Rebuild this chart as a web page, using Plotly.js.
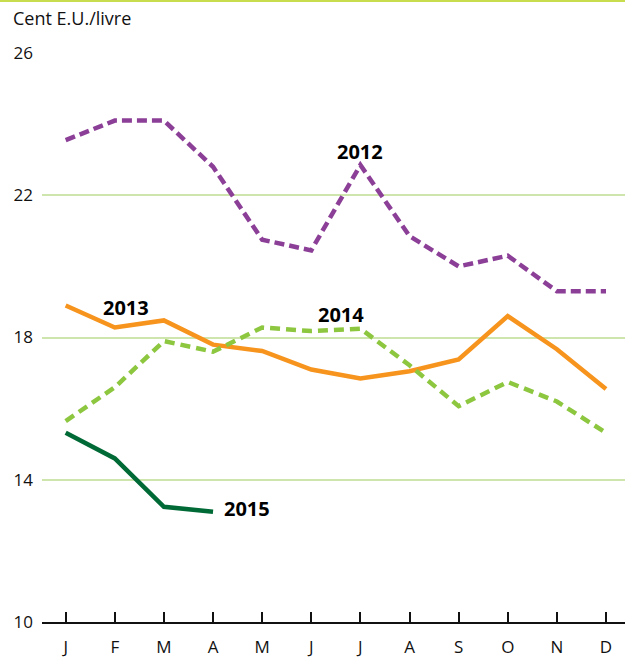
<!DOCTYPE html>
<html>
<head>
<meta charset="utf-8">
<script src="https://cdn.plot.ly/plotly-3.0.1.min.js"></script>
<style>
html,body{margin:0;padding:0;background:#fff;}
#chart{width:625px;height:658px;}
</style>
</head>
<body>
<div id="chart"></div>
<script>
var months = ['J','F','M','A','M','J','J','A','S','O','N','D'];
var monthIndex = [0,1,2,3,4,5,6,7,8,9,10,11];
var y2012 = [23.55, 24.1, 24.1, 22.8, 20.75, 20.45, 22.85, 20.85, 20.0, 20.3, 19.3, 19.3];
var y2013 = [18.9, 18.28, 18.48, 17.8, 17.62, 17.1, 16.85, 17.05, 17.38, 18.6, 17.67, 16.55];
var y2014 = [15.65, 16.6, 17.9, 17.6, 18.28, 18.18, 18.25, 17.22, 16.07, 16.75, 16.2, 15.32];
var y2015 = [15.32, 14.6, 13.24, 13.1];
var yTicks = [10, 14, 18, 22, 26];
var seriesNames = ['2012', '2013', '2014', '2015'];

var FONT = '"Open Sans", "Noto Sans", sans-serif';

var traces = [
  {x: monthIndex, y: y2012, name: seriesNames[0], mode: 'lines',
   line: {color: '#8c3f97', width: 4.5, dash: '10px,5px'}},
  {x: monthIndex, y: y2013, name: seriesNames[1], mode: 'lines',
   line: {color: '#f7941d', width: 4.5}},
  {x: monthIndex, y: y2014, name: seriesNames[2], mode: 'lines',
   line: {color: '#8dc63f', width: 4.5, dash: '10px,6px'}},
  {x: monthIndex.slice(0, y2015.length), y: y2015, name: seriesNames[3], mode: 'lines',
   line: {color: '#006a36', width: 4.5}}
];

function lbl(text, x, y) {
  return {text: '<b>' + text + '</b>', x: x, y: y, xref: 'x', yref: 'y',
          showarrow: false, font: {family: FONT, size: 20, color: '#000'},
          xanchor: 'center', yanchor: 'middle'};
}

var layout = {
  width: 625, height: 658,
  margin: {l: 42, r: 0, t: 53, b: 36, pad: 0},
  paper_bgcolor: '#fff', plot_bgcolor: '#fff',
  showlegend: false,
  font: {family: FONT, size: 17, color: '#111'},
  title: {text: 'Cent E.U./livre', x: 13/625, xref: 'container', xanchor: 'left',
          y: 1 - 19/658, yref: 'container', yanchor: 'middle',
          font: {family: FONT, size: 18, color: '#111'}},
  xaxis: {
    range: [-0.482, 11.387], fixedrange: true,
    tickmode: 'array', tickvals: monthIndex, ticktext: months,
    showgrid: false, zeroline: false,
    showline: true, linecolor: '#111', linewidth: 2,
    ticks: 'inside', ticklen: 10, tickwidth: 2, tickcolor: '#111',
    ticklabelstandoff: 9,
    tickfont: {family: FONT, size: 17, color: '#111'}
  },
  yaxis: {
    range: [10, 26], fixedrange: true,
    tickmode: 'array', tickvals: yTicks, ticktext: yTicks.map(String),
    showgrid: true, gridcolor: '#cfe5ae', gridwidth: 2,
    zeroline: false, showline: false, ticks: '',
    ticklabelstandoff: 8,
    tickfont: {family: FONT, size: 17, color: '#111'}
  },
  shapes: [
    {type: 'line', xref: 'paper', yref: 'paper', x0: -42/583, x1: 1,
     y0: (622 - 1) / 569, y1: (622 - 1) / 569,
     line: {color: '#c9dc4e', width: 2}}
  ],
  annotations: [
    lbl('2012', 6, 23.22),
    lbl('2013', 1.23, 18.84),
    lbl('2014', 5.6, 18.66),
    lbl('2015', 3.69, 13.18)
  ]
};

Plotly.newPlot('chart', traces, layout, {displayModeBar: false, staticPlot: true});
</script>
</body>
</html>
